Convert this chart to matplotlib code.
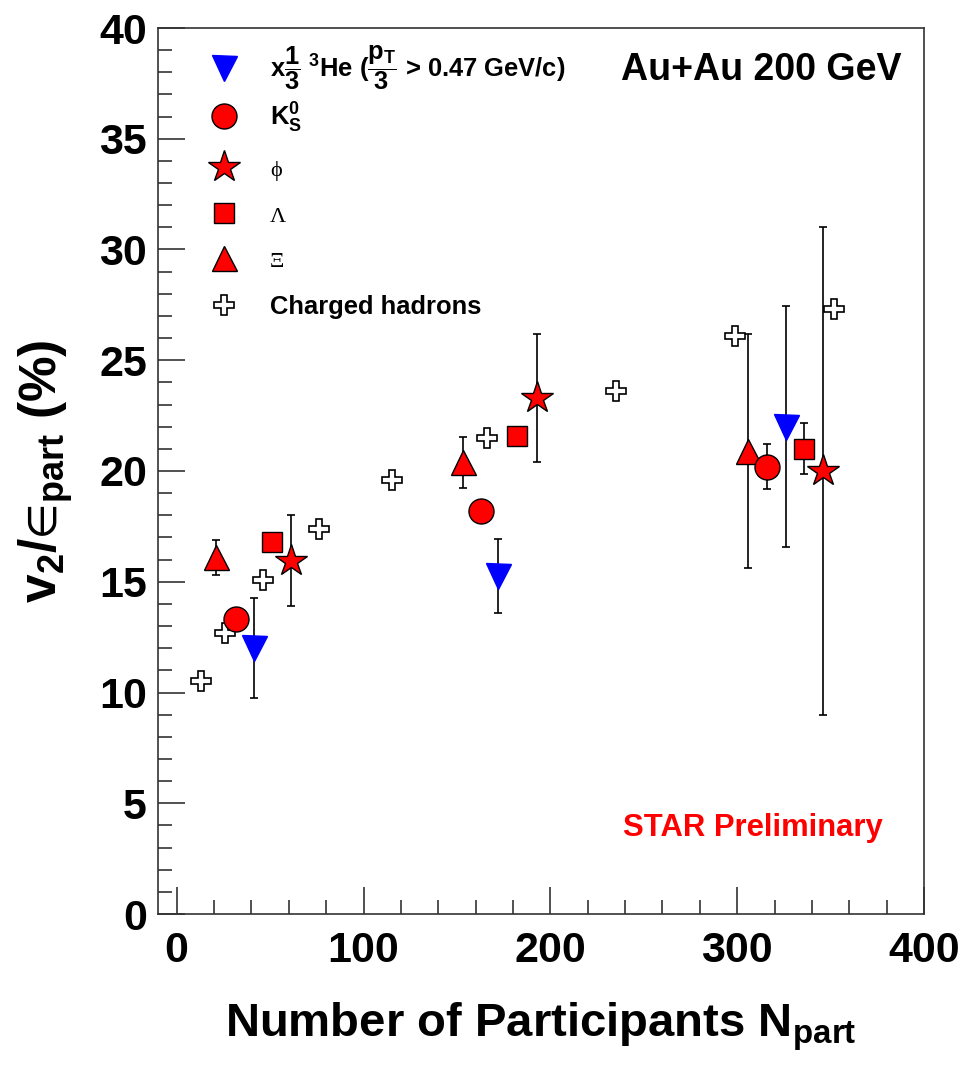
import matplotlib
matplotlib.use("Agg")
import matplotlib.pyplot as plt
from matplotlib.ticker import MultipleLocator

plt.rcParams['font.family'] = ['Liberation Sans', 'DejaVu Sans']
plt.rcParams['mathtext.fontset'] = 'custom'
plt.rcParams['mathtext.rm'] = 'Liberation Sans:bold'
plt.rcParams['mathtext.it'] = 'Liberation Sans:bold'
plt.rcParams['mathtext.bf'] = 'Liberation Sans:bold'
plt.rcParams['mathtext.sf'] = 'Liberation Sans:bold'
plt.rcParams['mathtext.fallback'] = 'stixsans'

# ---- data ----
he3_x = [41.5, 172, 326]
he3_y = [12.0, 15.25, 22.0]
he3_err = [2.25, 1.67, 5.45]

k0s_x = [32, 163, 316]
k0s_y = [13.3, 18.2, 20.2]
k0s_err = [0.3, 0.3, 1.0]

phi_x = [61, 193, 346]
phi_y = [15.95, 23.3, 20.0]
phi_err = [2.06, 2.9, 11.0]

lam_x = [51, 182, 336]
lam_y = [16.8, 21.6, 21.0]
lam_err = [0.2, 0.2, 1.15]

xi_x = [21, 153, 306]
xi_y = [16.1, 20.4, 20.9]
xi_err = [0.8, 1.15, 5.3]

ch_x = [13, 26, 46, 76, 115, 166, 235, 299, 352]
ch_y = [10.5, 12.7, 15.1, 17.4, 19.6, 21.5, 23.6, 26.1, 27.3]

he3_label = r'x$\dfrac{1}{3}$ $^{3}$He ($\dfrac{p_{T}}{3}$ > 0.47 GeV/c)'
other_labels = [r'K$_{S}^{0}$', 'ϕ', 'Λ', 'Ξ', 'Charged hadrons']

fig = plt.figure(figsize=(9.64, 10.65), dpi=100)
ax = fig.add_axes([158/964, 1 - 914/1065, 766/964, 886/1065])

red = '#ff0000'
blue = '#0000ff'
eb = dict(ecolor='black', elinewidth=1.2, capsize=3, capthick=1.2, linestyle='none')

h_ch, = ax.plot(ch_x, ch_y, linestyle='none', marker='P', markersize=15,
                markerfacecolor='white', markeredgecolor='black', markeredgewidth=1.2, zorder=3)
ax.errorbar(xi_x, xi_y, yerr=xi_err, zorder=2, **eb)
h_xi, = ax.plot(xi_x, xi_y, linestyle='none', marker='^', markersize=18,
                markerfacecolor=red, markeredgecolor='black', markeredgewidth=1.0, zorder=4)
ax.errorbar(lam_x, lam_y, yerr=lam_err, zorder=2, **eb)
h_lam, = ax.plot(lam_x, lam_y, linestyle='none', marker='s', markersize=15,
                 markerfacecolor=red, markeredgecolor='black', markeredgewidth=1.0, zorder=4)
ax.errorbar(k0s_x, k0s_y, yerr=k0s_err, zorder=2, **eb)
h_k0s, = ax.plot(k0s_x, k0s_y, linestyle='none', marker='o', markersize=18,
                 markerfacecolor=red, markeredgecolor='black', markeredgewidth=1.0, zorder=4)
ax.errorbar(phi_x, phi_y, yerr=phi_err, zorder=2, **eb)
h_phi, = ax.plot(phi_x, phi_y, linestyle='none', marker='*', markersize=24,
                 markerfacecolor=red, markeredgecolor='black', markeredgewidth=1.0, zorder=4)
ax.errorbar(he3_x, he3_y, yerr=he3_err, zorder=2, **eb)
h_he, = ax.plot(he3_x, he3_y, linestyle='none', marker='v', markersize=18,
                markerfacecolor=blue, markeredgecolor=blue, markeredgewidth=1.0, zorder=4)

ax.set_xlim(-10, 400)
ax.set_ylim(0, 40)
ax.xaxis.set_major_locator(MultipleLocator(100))
ax.xaxis.set_minor_locator(MultipleLocator(20))
ax.yaxis.set_major_locator(MultipleLocator(5))
ax.yaxis.set_minor_locator(MultipleLocator(1))
ax.tick_params(which='both', direction='in', top=False, right=False, width=1.2, colors='#333333',
               labelcolor='black')
ax.tick_params(which='major', length=19.5)
ax.tick_params(which='minor', length=10)
ax.tick_params(axis='x', labelsize=31, pad=12)
ax.tick_params(axis='y', labelsize=31, pad=8)
for lab in ax.get_xticklabels() + ax.get_yticklabels():
    lab.set_fontweight('bold')
for s in ax.spines.values():
    s.set_linewidth(1.2)
    s.set_color('#333333')

ax.set_xlabel(r'Number of Participants N$_{part}$', fontsize=34, fontweight='bold')
ax.xaxis.set_label_coords(0.50, -0.098)
ax.set_ylabel(r'v$_{2}$/$∈_{part}$ (%)', fontsize=37, fontweight='bold')
ax.yaxis.set_label_coords(-0.109, 0.50)

common = dict(frameon=False, handlelength=1.6, handletextpad=1.0, borderaxespad=0,
              borderpad=0.4, prop={'weight': 'bold', 'size': 18.4})
leg1 = ax.legend([h_he], [he3_label], loc='center left',
                 bbox_to_anchor=(0.046, (914 - 68) / 886), **common)
ax.add_artist(leg1)
leg2 = ax.legend([h_k0s, h_phi, h_lam, h_xi, h_ch], other_labels, loc='center left',
                 bbox_to_anchor=(0.046, (914 - 210) / 886), labelspacing=0.9, **common)
for i in (1, 2, 3):
    t = leg2.get_texts()[i]
    t.set_fontfamily(['Liberation Serif', 'DejaVu Serif'])
    t.set_fontweight('normal')
    t.set_fontsize(16)

ax.text((902 - 158) / 766, (914 - 70) / 886, 'Au+Au 200 GeV', transform=ax.transAxes,
        ha='right', va='center', fontsize=27, fontweight='bold')
ax.text((883 - 158) / 766, (914 - 828) / 886, 'STAR Preliminary', transform=ax.transAxes,
        ha='right', va='center', fontsize=22.3, fontweight='bold', color=red)

fig.savefig('out.png', dpi=100)
